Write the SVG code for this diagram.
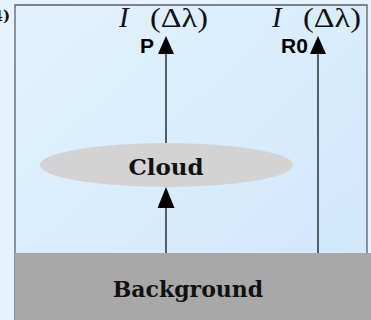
<svg xmlns="http://www.w3.org/2000/svg" width="371" height="320" viewBox="0 0 371 320">
<defs>
<linearGradient id="bg" x1="0" y1="0" x2="1" y2="1">
<stop offset="0" stop-color="#e2f3ff"/>
<stop offset="1" stop-color="#cfe6fa"/>
</linearGradient>
<style>
.frame{fill:none;stroke:#5a6068;stroke-width:1.3}
.conn{stroke:#000;stroke-width:1.2;fill:none}
.head{fill:#000}
.serif{font-family:"DejaVu Serif","Liberation Serif",serif;font-weight:bold;fill:#111}
.ital{font-family:"Liberation Serif","DejaVu Serif",serif;font-size:27px;fill:#111}
.it{font-style:italic;font-size:29px}
.sans{font-family:"Liberation Sans","DejaVu Sans",sans-serif;font-weight:bold;font-size:21px;fill:#000}
</style>
</defs>
<rect x="0" y="0" width="371" height="320" fill="#e4f3fd"/>
<rect x="15" y="5" width="352" height="315" fill="url(#bg)"/>
<path class="frame" d="M15,320 V5 H367 V253"/>
<text class="serif" x="10" y="21" font-size="15" text-anchor="end">(4)</text>
<g id="connectors">
<line class="conn" x1="166" y1="253" x2="166" y2="205"/>
<polygon class="head" points="166,187 157.5,208 174.5,208"/>
<line class="conn" x1="166" y1="143" x2="166" y2="51"/>
<polygon class="head" points="166,36 158,54 174,54"/>
<line class="conn" x1="318" y1="253" x2="318" y2="51"/>
<polygon class="head" points="318,36 310,54 326,54"/>
</g>
<g id="background">
<rect x="15" y="253" width="356" height="67" fill="#a8a8a8"/>
<text class="serif" x="188" y="297" font-size="22" text-anchor="middle">Background</text>
</g>
<g id="cloud">
<ellipse cx="166.5" cy="165" rx="126.5" ry="22" fill="#d3d3d3"/>
<text class="serif" x="166" y="175" font-size="23" text-anchor="middle">Cloud</text>
</g>
<g id="P">
<text class="ital" x="119" y="27"><tspan class="it">I</tspan><tspan x="150" textLength="58" lengthAdjust="spacingAndGlyphs">(Δλ)</tspan></text>
<text class="sans" x="140" y="53">P</text>
</g>
<g id="R0">
<text class="ital" x="272" y="27"><tspan class="it">I</tspan><tspan x="303" textLength="58" lengthAdjust="spacingAndGlyphs">(Δλ)</tspan></text>
<text class="sans" x="281" y="53">R0</text>
</g>
</svg>
